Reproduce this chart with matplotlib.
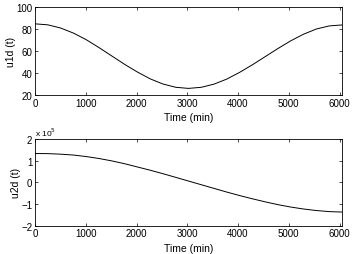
import numpy as np
import matplotlib
matplotlib.use("Agg")
import matplotlib.pyplot as plt

# ====================== data ======================
time_min = [0, 252, 504, 756, 1008, 1260, 1512, 1764, 2016, 2268, 2520, 2772,
            3024, 3276, 3528, 3780, 4032, 4284, 4536, 4788, 5040, 5292, 5544,
            5796, 6048]

u1d = [84.6, 83.7, 80.8, 76.2, 70.2, 63.0, 55.4, 47.8, 40.8, 34.6, 29.9, 26.9,
       25.9, 26.9, 29.8, 34.4, 40.5, 47.4, 54.8, 62.2, 69.2, 75.2, 79.9,
       82.7, 83.6]

u2d = [1.33e5, 1.325e5, 1.30e5, 1.26e5, 1.19e5, 1.10e5, 0.99e5, 0.86e5, 0.71e5,
       0.56e5, 0.40e5, 0.23e5, 0.06e5, -0.11e5, -0.28e5, -0.45e5, -0.61e5,
       -0.76e5, -0.90e5, -1.03e5, -1.14e5, -1.23e5, -1.30e5, -1.35e5, -1.37e5]

x_ticks = [0, 1000, 2000, 3000, 4000, 5000, 6000]
y1_ticks = [20, 40, 60, 80, 100]
y2_ticks = [-2, -1, 0, 1, 2]

# ====================== figure ======================
plt.rcParams["font.family"] = ["Liberation Sans", "DejaVu Sans"]
plt.rcParams["font.size"] = 7

fig = plt.figure(figsize=(3.54, 2.55), dpi=100)
ax1 = fig.add_axes([0.099, 0.624, 0.867, 0.345])
ax2 = fig.add_axes([0.099, 0.111, 0.867, 0.340])


def style_axis(ax):
    ax.tick_params(direction="in", top=True, right=True, length=2.5,
                   width=0.5, labelsize=7, pad=2)
    for sp in ax.spines.values():
        sp.set_linewidth(0.6)
    ax.set_xlim(0, 6048)
    ax.set_xticks(x_ticks)
    ax.set_xlabel("Time (min)", fontsize=7.5, labelpad=3)


# 上图
ax1.plot(time_min, u1d, color="black", linewidth=0.7)
style_axis(ax1)
ax1.set_ylim(20, 100)
ax1.set_yticks(y1_ticks)
ax1.set_ylabel("u1d (t)", fontsize=7.5, labelpad=0)

# 下图 (scaled by 1e5)
ax2.plot(time_min, np.array(u2d) / 1e5, color="black", linewidth=0.7)
style_axis(ax2)
ax2.set_ylim(-2, 2)
ax2.set_yticks(y2_ticks)
ax2.set_yticklabels(["\u22122", "\u22121", "0", "1", "2"])
ax2.set_ylabel("u2d (t)", fontsize=7.5, labelpad=0)
ax2.text(0.0, 1.01, "x 10$^5$", transform=ax2.transAxes, fontsize=6,
         ha="left", va="bottom")

fig.savefig("out.png", dpi=100)
